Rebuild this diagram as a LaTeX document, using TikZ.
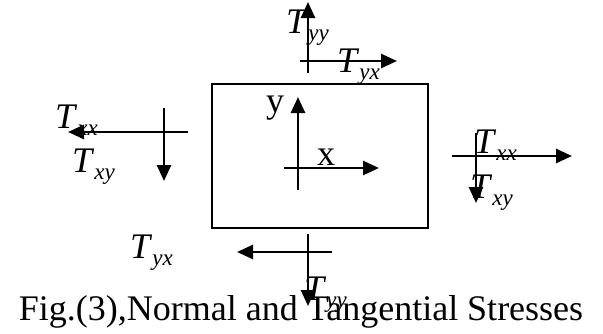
\documentclass[tikz,border=0pt]{standalone}
\usepackage{fontspec}
\setmainfont{Liberation Serif}
\usetikzlibrary{arrows.meta}
\newcommand{\stress}[1]{\textit{T}\raisebox{-7pt}{\fontsize{23}{23}\selectfont\textit{#1}}}

\begin{document}
\begin{tikzpicture}[x=1pt, y=-1pt,
    stressarrow/.style={line width=2.6pt, -{Triangle[length=16pt, width=14pt]}},
    lbl/.style={inner sep=0pt, anchor=base west, font=\fontsize{36}{36}\selectfont}]
    \useasboundingbox (0,0) rectangle (603,333);
    % element
    \draw[line width=1.8pt] (212,84) rectangle (428,228);
    \coordinate (ya) at (298,190); \coordinate (yb) at (298,97);
    \coordinate (xa) at (284,168); \coordinate (xb) at (379,168);
    \draw[stressarrow] (ya) -- (yb);
    \draw[stressarrow] (xa) -- (xb);
    \node[lbl] (ylab) at (266,112) {y};
    \node[lbl] (xlab) at (317,165) {x};
    % top face
    \coordinate (tva) at (308,73); \coordinate (tvb) at (308,2);
    \coordinate (tha) at (300,61); \coordinate (thb) at (397,61);
    \draw[stressarrow] (tva) -- (tvb);
    \draw[stressarrow] (tha) -- (thb);
    \node[lbl] (tyy) at (286,33) {\stress{yy}};
    \node[lbl] (tyx) at (337,72) {\stress{yx}};
    % left face
    \coordinate (lha) at (188,132); \coordinate (lhb) at (68,132);
    \coordinate (lva) at (164,108); \coordinate (lvb) at (164,181);
    \draw[stressarrow] (lha) -- (lhb);
    \draw[stressarrow] (lva) -- (lvb);
    \node[lbl] (lxx) at (55,128) {\stress{xx}};
    \node[lbl] (lxy) at (72,172) {\stress{xy}};
    % right face
    \coordinate (rha) at (452,156); \coordinate (rhb) at (572,156);
    \coordinate (rva) at (476,133); \coordinate (rvb) at (476,203);
    \draw[stressarrow] (rha) -- (rhb);
    \draw[stressarrow] (rva) -- (rvb);
    \node[lbl] (rxx) at (474,153) {\stress{xx}};
    \node[lbl] (rxy) at (470,198) {\stress{xy}};
    % bottom face
    \coordinate (bha) at (332,252); \coordinate (bhb) at (237,252);
    \coordinate (bva) at (308,234); \coordinate (bvb) at (308,306);
    \draw[stressarrow] (bha) -- (bhb);
    \draw[stressarrow] (bva) -- (bvb);
    \node[lbl] (byx) at (130,258) {\stress{yx}};
    \node[lbl] (byy) at (304,300) {\stress{yy}};
    % caption
    \node[inner sep=0pt, anchor=base, font=\fontsize{36}{36}\selectfont] (cap) at (301,320)
      {Fig.(3),Normal and Tangential Stresses};
\end{tikzpicture}
\end{document}
